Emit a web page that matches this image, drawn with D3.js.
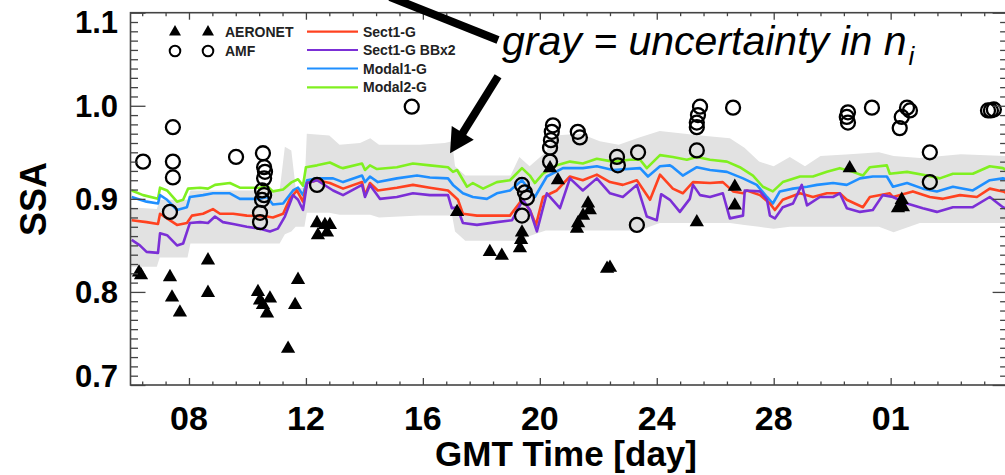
<!DOCTYPE html>
<html><head><meta charset="utf-8">
<script src="https://cdn.jsdelivr.net/npm/d3@7"></script>
<style>
body{margin:0;background:#fff;}
svg{display:block;}
text{font-family:"Liberation Sans",Arial,Helvetica,sans-serif;}
</style>
</head><body>
<svg id="c" width="1005" height="475"></svg>
<script>
// ---------- DATA ----------
const xTickValues = [8, 12, 16, 20, 24, 28, 32];
const xTickLabels = ["08", "12", "16", "20", "24", "28", "01"];
const yTickValues = [0.7, 0.8, 0.9, 1.0, 1.1];
const yTickLabels = ["0.7", "0.8", "0.9", "1.0", "1.1"];
const xDomain = [6, 36];       // day of month (Oct), 32 = Nov 01
const yDomain = [0.7, 1.1];

const seriesNames = ["Sect1-G", "Sect1-G BBx2", "Modal1-G", "Modal2-G"];
const seriesColors = ["#ff4220", "#7b2fd6", "#1f8fff", "#80f020"];

const bandDays = [6.0,6.9,7.0,7.95,8.05,11.1,11.28,11.5,11.65,11.95,12.03,12.8,13.15,13.85,14.2,14.5,15.9,16.75,17.0,17.1,17.45,19.0,19.3,19.65,20.2,20.5,21.4,22.05,22.7,23.4,24.1,25.5,26.5,27.0,27.5,28.0,28.55,29.07,29.6,30.6,31.6,32.1,33.0,34.4,36.0];
const bandUpper = [0.891,0.889,0.899,0.899,0.909,0.909,0.956,0.952,0.912,0.912,0.970,0.968,0.958,0.960,0.965,0.958,0.958,0.960,0.962,0.935,0.925,0.925,0.945,0.935,0.950,0.968,0.970,0.962,0.958,0.966,0.973,0.968,0.965,0.955,0.940,0.935,0.945,0.935,0.946,0.948,0.950,0.946,0.944,0.948,0.946];
const bandLower = [0.827,0.827,0.837,0.837,0.852,0.852,0.862,0.865,0.870,0.870,0.885,0.885,0.883,0.883,0.883,0.880,0.882,0.882,0.882,0.865,0.855,0.855,0.855,0.860,0.866,0.866,0.866,0.866,0.866,0.866,0.874,0.874,0.874,0.872,0.870,0.868,0.870,0.870,0.870,0.870,0.870,0.864,0.874,0.874,0.874];

const sect1G = [[6.04,.877],[6.55,.875],[6.94,.873],[7.01,.884],[7.25,.879],[7.59,.872],[7.93,.874],[8.10,.882],[8.48,.884],[8.82,.889],[9.06,.884],[9.51,.884],[9.98,.882],[10.67,.881],[10.87,.880],[11.22,.884],[11.45,.900],[11.69,.909],[11.90,.897],[12.04,.917],[12.38,.920],[12.82,.917],[13.27,.911],[13.92,.918],[14.02,.904],[14.19,.917],[14.46,.909],[15.11,.912],[15.66,.915],[16.24,.912],[16.86,.909],[17.10,.902],[17.20,.899],[17.37,.884],[17.85,.882],[18.53,.882],[18.98,.882],[19.39,.899],[19.66,.888],[19.87,.872],[20.11,.902],[20.58,.909],[21.03,.924],[21.47,.920],[21.95,.926],[22.40,.918],[22.84,.915],[23.32,.920],[23.77,.899],[24.11,.926],[24.55,.911],[24.89,.906],[25.24,.918],[25.82,.917],[26.26,.918],[26.61,.908],[26.95,.906],[27.08,.909],[27.53,.904],[27.87,.895],[28.04,.888],[28.31,.899],[28.90,.906],[29.34,.902],[29.82,.906],[30.26,.906],[30.50,.899],[31.05,.891],[31.29,.902],[31.97,.906],[32.08,.902],[32.76,.908],[33.34,.902],[33.79,.900],[34.37,.904],[34.95,.902],[35.39,.911],[35.84,.908],[36.0,.906]];

const sect1GBBx2 = [[6.04,.856],[6.32,.850],[6.55,.843],[6.94,.842],[7.01,.863],[7.25,.861],[7.59,.850],[7.80,.852],[8.03,.874],[8.38,.875],[8.65,.874],[8.89,.881],[9.16,.875],[9.51,.873],[9.98,.870],[10.43,.868],[10.77,.865],[11.04,.868],[11.28,.881],[11.56,.904],[11.73,.899],[11.90,.888],[12.04,.917],[12.38,.920],[12.93,.909],[13.27,.904],[13.92,.915],[14.02,.902],[14.19,.915],[14.53,.900],[15.11,.902],[15.66,.906],[16.24,.904],[16.86,.904],[16.99,.890],[17.17,.891],[17.37,.874],[17.85,.872],[18.53,.875],[19.05,.877],[19.42,.899],[19.66,.888],[19.90,.865],[20.24,.906],[20.69,.890],[21.03,.922],[21.47,.909],[21.95,.922],[22.40,.906],[22.84,.902],[23.32,.915],[23.66,.881],[24.00,.877],[24.15,.905],[24.45,.899],[24.79,.886],[25.13,.900],[25.24,.915],[25.48,.904],[25.82,.902],[26.26,.906],[26.50,.879],[26.95,.882],[27.01,.909],[27.53,.908],[27.77,.899],[27.87,.882],[28.04,.879],[28.31,.891],[28.66,.895],[28.96,.915],[29.14,.893],[29.58,.902],[30.03,.902],[30.26,.906],[30.50,.890],[30.95,.886],[31.39,.888],[31.73,.904],[32.08,.902],[32.56,.895],[33.10,.890],[33.58,.886],[34.13,.891],[34.81,.891],[35.39,.902],[35.84,.891],[36.0,.889]];

const modal1G = [[6.04,.902],[6.55,.897],[6.94,.895],[7.01,.904],[7.25,.899],[7.59,.888],[7.93,.891],[8.03,.902],[8.48,.904],[8.82,.906],[9.40,.906],[9.74,.900],[10.43,.900],[10.67,.902],[10.87,.894],[11.22,.895],[11.56,.909],[11.73,.912],[11.90,.904],[12.04,.920],[12.38,.922],[12.93,.922],[13.27,.918],[13.92,.925],[14.02,.918],[14.19,.924],[14.46,.918],[15.11,.922],[15.80,.925],[16.24,.923],[16.86,.922],[17.03,.915],[17.37,.906],[17.71,.902],[18.19,.900],[18.53,.906],[18.98,.909],[19.39,.920],[19.83,.902],[20.24,.924],[20.79,.933],[21.47,.933],[21.95,.935],[22.50,.931],[23.43,.933],[23.70,.924],[24.11,.935],[24.45,.936],[24.55,.934],[24.89,.925],[25.37,.934],[25.82,.931],[26.40,.929],[26.95,.922],[27.42,.915],[27.77,.902],[27.97,.895],[28.21,.908],[28.66,.911],[29.14,.913],[29.48,.915],[30.03,.917],[30.50,.915],[30.95,.922],[31.39,.924],[31.87,.924],[32.08,.913],[32.56,.917],[33.10,.911],[33.58,.908],[34.13,.913],[34.81,.909],[35.39,.920],[35.84,.922],[36.0,.921]];

const modal2G = [[6.04,.909],[6.43,.904],[6.94,.900],[7.01,.912],[7.25,.909],[7.59,.897],[7.80,.899],[7.97,.911],[8.38,.912],[8.65,.911],[8.89,.915],[9.40,.917],[9.74,.912],[10.43,.912],[10.67,.914],[10.87,.908],[11.22,.910],[11.52,.918],[11.73,.921],[11.90,.914],[12.00,.934],[12.38,.936],[12.82,.939],[13.16,.934],[13.27,.933],[13.92,.938],[14.02,.931],[14.19,.936],[14.43,.932],[15.11,.934],[15.66,.938],[16.24,.936],[16.86,.934],[17.03,.929],[17.17,.931],[17.51,.913],[17.71,.917],[18.06,.911],[18.53,.918],[18.98,.920],[19.39,.933],[19.66,.925],[19.83,.917],[20.11,.927],[20.58,.936],[21.03,.940],[21.47,.938],[21.95,.943],[22.50,.940],[23.08,.942],[23.43,.942],[23.66,.933],[24.11,.947],[24.55,.945],[25.03,.942],[25.37,.945],[25.82,.942],[26.40,.940],[26.84,.934],[27.29,.925],[27.63,.913],[27.97,.908],[28.31,.918],[28.90,.924],[29.34,.924],[29.82,.929],[30.26,.933],[30.71,.929],[31.05,.925],[31.29,.934],[31.87,.936],[31.97,.927],[32.56,.929],[33.24,.925],[33.68,.922],[34.13,.927],[34.81,.927],[35.39,.935],[35.84,.933],[36.0,.930]];

const aeronet = [[6.29,.821],[6.36,.818],[7.35,.816],[7.42,.794],[7.69,.778],[8.65,.834],[8.65,.799],[10.36,.800],[10.43,.791],[10.53,.786],[10.67,.777],[10.77,.793],[11.39,.739],[11.63,.786],[11.73,.813],[12.38,.874],[12.41,.861],[12.65,.872],[12.72,.864],[12.82,.872],[17.17,.886],[18.29,.843],[18.70,.839],[19.32,.847],[19.36,.856],[19.39,.864],[20.35,.933],[20.62,.920],[21.27,.868],[21.31,.874],[21.48,.882],[21.65,.895],[21.71,.888],[22.30,.825],[22.40,.826],[25.37,.875],[26.67,.913],[26.67,.893],[30.60,.933],[32.25,.890],[32.38,.899],[32.42,.891]];

const amf = [[6.43,.940],[7.45,.977],[7.45,.940],[7.45,.923],[7.35,.886],[9.61,.945],[10.53,.949],[10.57,.934],[10.60,.929],[10.57,.922],[10.50,.909],[10.57,.904],[10.50,.899],[10.43,.885],[10.43,.875],[12.38,.915],[15.62,.999],[19.39,.915],[19.49,.907],[19.56,.901],[19.39,.882],[20.45,.979],[20.41,.972],[20.38,.963],[20.35,.955],[20.35,.940],[21.30,.972],[21.37,.966],[22.64,.945],[22.67,.936],[23.36,.950],[23.32,.872],[25.48,.999],[25.41,.990],[25.37,.982],[25.37,.977],[25.37,.952],[26.61,.998],[30.54,.993],[30.50,.988],[30.54,.982],[31.36,.998],[32.56,.998],[32.66,.995],[32.38,.988],[32.31,.976],[33.34,.950],[33.34,.918],[35.33,.995],[35.43,.995],[35.53,.996]];

const annotationText = "gray = uncertainty in n";
const annotationSub = "i";
const arrowTip = [16.93, 0.949];

// ---------- LAYOUT ----------
const svg = d3.select("#c");
const L = 130.5, R = 1007.6, T = 12.7, B = 385;
const x = d3.scaleLinear().domain(xDomain).range([L, R]);
const y = d3.scaleLinear().domain(yDomain).range([B, T]);

svg.append("defs").append("clipPath").attr("id","clip")
  .append("rect").attr("x",L).attr("y",T).attr("width",R-L).attr("height",B-T);

const plot = svg.append("g").attr("clip-path","url(#clip)");

// uncertainty band
const bandData = bandDays.map((d,i)=>({d, u: bandUpper[i], l: bandLower[i]}));
plot.append("path").datum(bandData)
  .attr("fill","#e2e2e2")
  .attr("d", d3.area().x(p=>x(p.d)).y0(p=>y(p.l)).y1(p=>y(p.u)));

// model lines
const allSeries = [sect1G, sect1GBBx2, modal1G, modal2G];
const line = d3.line().x(p=>x(p[0])).y(p=>y(p[1]));
const drawOrder = [3, 2, 0, 1];
drawOrder.forEach(i=>{
  plot.append("path").datum(allSeries[i])
    .attr("fill","none").attr("stroke",seriesColors[i])
    .attr("stroke-width",2.6).attr("stroke-linejoin","round")
    .attr("d", line);
});

// AMF circles
plot.selectAll("circle.amf").data(amf).join("circle")
  .attr("class","amf")
  .attr("cx",p=>x(p[0])).attr("cy",p=>y(p[1])).attr("r",7)
  .attr("fill","none").attr("stroke","#000").attr("stroke-width",2.3);

// AERONET triangles
const tri = d3.symbol().type(d3.symbolTriangle).size(88);
plot.selectAll("path.aer").data(aeronet).join("path")
  .attr("class","aer")
  .attr("transform",p=>`translate(${x(p[0])},${y(p[1])})`)
  .attr("d", tri).attr("fill","#000");

// ---------- AXES ----------
const axisColor = "#444";
function minorX(){ const v=[]; for(let t=6.4;t<36;t+=0.8) v.push(+t.toFixed(2)); return v; }
function minorY(){ const v=[]; for(let t=0.70;t<=1.1001;t+=0.01) v.push(+t.toFixed(2)); return v; }
const xMinor = minorX().filter(v=>!xTickValues.some(m=>Math.abs(m-v)<1e-6));
const yMinor = minorY().filter(v=>!yTickValues.some(m=>Math.abs(m-v)<1e-6));

function styleAxis(g){
  g.selectAll("path.domain").remove();
  g.selectAll("line").attr("stroke",axisColor).attr("stroke-width",1.3);
  g.selectAll("text").remove();
}
svg.append("g").attr("transform",`translate(0,${B})`).call(d3.axisBottom(x).tickValues(xMinor).tickSize(-3.5)).call(styleAxis);
svg.append("g").attr("transform",`translate(0,${B})`).call(d3.axisBottom(x).tickValues(xTickValues).tickSize(-7)).call(styleAxis);
svg.append("g").attr("transform",`translate(0,${T})`).call(d3.axisTop(x).tickValues(xMinor).tickSize(-3.5)).call(styleAxis);
svg.append("g").attr("transform",`translate(0,${T})`).call(d3.axisTop(x).tickValues(xTickValues).tickSize(-7)).call(styleAxis);
svg.append("g").attr("transform",`translate(${L},0)`).call(d3.axisLeft(y).tickValues(yMinor).tickSize(-7.5)).call(styleAxis);
svg.append("g").attr("transform",`translate(${L},0)`).call(d3.axisLeft(y).tickValues(yTickValues).tickSize(-15)).call(styleAxis);
svg.append("g").attr("transform",`translate(${R},0)`).call(d3.axisRight(y).tickValues(yMinor).tickSize(-7.5)).call(styleAxis);
svg.append("g").attr("transform",`translate(${R},0)`).call(d3.axisRight(y).tickValues(yTickValues).tickSize(-15)).call(styleAxis);

svg.append("rect").attr("x",L).attr("y",T).attr("width",R-L).attr("height",B-T)
  .attr("fill","none").attr("stroke",axisColor).attr("stroke-width",1.6);

// tick labels
svg.append("g").selectAll("text").data(xTickValues).join("text")
  .attr("x",v=>x(v)).attr("y",430).attr("text-anchor","middle")
  .attr("font-size",34).attr("font-weight","bold").attr("fill","#000")
  .text((v,i)=>xTickLabels[i]);
svg.append("g").selectAll("text").data(yTickValues).join("text")
  .attr("x",118).attr("y",v=>Math.max(33, Math.min(387, y(v)+11))).attr("text-anchor","end")
  .attr("font-size",31).attr("font-weight","bold").attr("fill","#000")
  .text((v,i)=>yTickLabels[i]);

// axis titles
svg.append("text").attr("x",(L+R)/2 - 3).attr("y",466).attr("text-anchor","middle")
  .attr("font-size",35).attr("font-weight","bold").text("GMT Time [day]");
svg.append("text").attr("transform","translate(46,199) rotate(-90)").attr("text-anchor","middle")
  .attr("font-size",36).attr("font-weight","bold").text("SSA");

// ---------- LEGEND ----------
const lg = svg.append("g");
const triL = d3.symbol().type(d3.symbolTriangle).size(62);
[175,208].forEach(cx=>{
  lg.append("path").attr("transform",`translate(${cx},32)`).attr("d",triL).attr("fill","#000");
  lg.append("circle").attr("cx",cx).attr("cy",51).attr("r",5.3).attr("fill","none").attr("stroke","#000").attr("stroke-width",2);
});
lg.append("text").attr("x",225).attr("y",37).attr("font-size",14).attr("font-weight","bold").attr("fill","#222").text("AERONET");
lg.append("text").attr("x",225).attr("y",56).attr("font-size",14).attr("font-weight","bold").attr("fill","#222").text("AMF");
const legY = [31.7, 50, 68.5, 87.3];
seriesNames.forEach((n,i)=>{
  lg.append("line").attr("x1",307).attr("x2",358).attr("y1",legY[i]).attr("y2",legY[i])
    .attr("stroke",seriesColors[i]).attr("stroke-width",2.2);
  lg.append("text").attr("x",363).attr("y",legY[i]+5).attr("font-size",14).attr("font-weight","bold").attr("fill","#222").text(n);
});

// ---------- ANNOTATION ----------
const ann = svg.append("text").attr("x",502).attr("y",55).attr("font-size",41).attr("font-style","italic").attr("fill","#000");
ann.append("tspan").text(annotationText);
ann.append("tspan").attr("font-size",26).attr("dy",10).attr("dx",2).text(annotationSub);

svg.append("line").attr("x1",390).attr("y1",-3).attr("x2",498).attr("y2",40)
  .attr("stroke","#000").attr("stroke-width",8);
const tx = x(arrowTip[0]), ty = y(arrowTip[1]);
const sx = tx + 48, sy = ty - 77;
const len = Math.hypot(tx-sx, ty-sy), ux = (tx-sx)/len, uy = (ty-sy)/len;
const headLen = 24, headW = 13;
const bx = tx - ux*headLen, by = ty - uy*headLen;
svg.append("line").attr("x1",sx).attr("y1",sy).attr("x2",bx+ux*2).attr("y2",by+uy*2)
  .attr("stroke","#000").attr("stroke-width",8);
svg.append("path").attr("d",`M${tx},${ty}L${bx - uy*headW},${by + ux*headW}L${bx + uy*headW},${by - ux*headW}Z`).attr("fill","#000");
</script>
</body></html>
